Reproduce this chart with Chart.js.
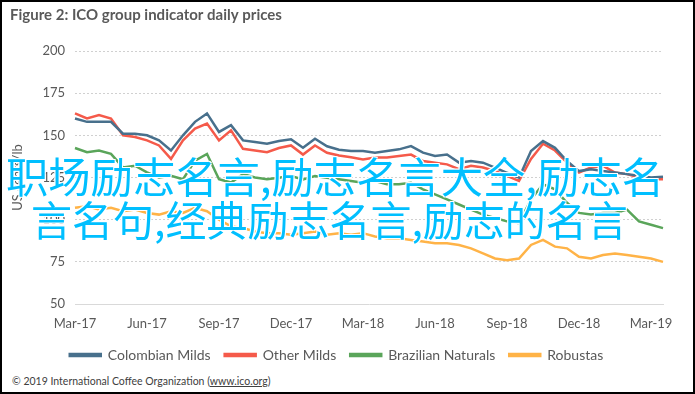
<!DOCTYPE html>
<html lang="en">
<head>
<meta charset="utf-8">
<title>ICO group indicator daily prices</title>
<script src="https://cdn.jsdelivr.net/npm/chart.js@4.4.0/dist/chart.umd.min.js"></script>
<style>
  body { margin: 0; background: #fff; }
  .kontainer { position: relative; width: 695px; height: 394px; overflow: hidden; }
  .ram { position: absolute; left: 0; top: 0; width: 695px; height: 394px; box-sizing: border-box; border: 2px solid #000; pointer-events: none; }
  .diagram { position: absolute; left: 0; top: 0; width: 695px; height: 375px; }
  .kalla { position: absolute; left: 12px; top: 375px; font: 10.5px Lato, sans-serif; color: #404040; }
  .kalla u { text-decoration: underline; }
  .overlay { position: absolute; white-space: nowrap;
             font-family: "Noto Sans CJK SC", sans-serif; line-height: 42px; color: #00bfff;
             text-shadow: 1px 1px 0 #fff, -1px -1px 0 #fff, 1px -1px 0 #fff, -1px 1px 0 #fff; }
  .rad1 { left: 6px; top: 154px; font-size: 42.3px; }
  .rad2 { left: 31px; top: 197px; font-size: 41px; }
</style>
</head>
<body>
<div class="kontainer">
  <div class="diagram"><canvas id="myChart" width="695" height="375"></canvas></div>
  <div class="overlay rad1">职场励志名言,励志名言大全,励志名</div>
  <div class="overlay rad2">言名句,经典励志名言,励志的名言</div>
  <div class="kalla">© 2019 International Coffee Organization (<u>www.ico.org</u>)</div>
  <div class="ram"></div>
</div>
<script>
// half-monthly readings, Mar-17 .. mid Mar-19
const categories = [
  '01-Mar-17','16-Mar-17','01-Apr-17','16-Apr-17','01-May-17','16-May-17',
  '01-Jun-17','16-Jun-17','01-Jul-17','16-Jul-17','01-Aug-17','16-Aug-17',
  '01-Sep-17','16-Sep-17','01-Oct-17','16-Oct-17','01-Nov-17','16-Nov-17',
  '01-Dec-17','16-Dec-17','01-Jan-18','16-Jan-18','01-Feb-18','16-Feb-18',
  '01-Mar-18','16-Mar-18','01-Apr-18','16-Apr-18','01-May-18','16-May-18',
  '01-Jun-18','16-Jun-18','01-Jul-18','16-Jul-18','01-Aug-18','16-Aug-18',
  '01-Sep-18','16-Sep-18','01-Oct-18','16-Oct-18','01-Nov-18','16-Nov-18',
  '01-Dec-18','16-Dec-18','01-Jan-19','16-Jan-19','01-Feb-19','16-Feb-19',
  '01-Mar-19','16-Mar-19'
];
const tickLabels = ['Mar-17','Jun-17','Sep-17','Dec-17','Mar-18','Jun-18','Sep-18','Dec-18','Mar-19'];

const colombianMilds = [160,158,158,158,151,151,150,147,141,150,158,163,152,156,147,146,145,146.6,147.7,142.6,
  148,143.5,141.5,140.7,140.7,139.7,140.7,141.7,143.6,139.7,137.8,138.6,133.8,134.8,133.8,130.9,127.8,124.9,140.7,146.6,
  142.6,134.8,128.8,129.9,128.8,127.9,127,126,125,125.5];
const otherMilds = [163,160,162,160,150,149,147,144,136,147,154,157,147,153,142,141,140,142.5,144,138.6,
  144,139.7,138,137,135.7,136.8,136.8,137.8,138.6,134.8,133.8,132.8,129.9,131.9,130.9,128.9,126,123,136,145,
  141,133.8,128,130.9,131.9,127.9,127,125,124,124];
const brazilianNaturals = [142.5,140,141,139,131,132,128,125,126,124,135,139,124,122,127,125,124,124.9,125.9,123.9,
  125.9,124.9,123.9,122.9,121.9,122.9,121,121,121.9,118,115,112,109,106,103,101,99,98,112,121,
  118,110,104,103,104,104,106,99,97,95];
const robustas = [107,108,106,107,105,106,104,103,105,104,107,105,100,96,95,93,92,92,91,92,
  93,91,92,91,92,90,89,89,88,87,86,86,85,83,80,77,76,77,85,88,
  84,83,78,77,79,80,79,78,77,75];

const grå = '#595959';

function serie(label, data, color) {
  return { label: label, data: data, borderColor: color, backgroundColor: color,
           borderWidth: 2.5, pointRadius: 0, tension: 0 };
}

const ctx = document.getElementById('myChart').getContext('2d');
const myChart = new Chart(ctx, {
  type: 'line',
  data: {
    labels: categories,
    datasets: [
      serie('Colombian Milds', colombianMilds, '#48708c'),
      serie('Other Milds', otherMilds, '#f55a4a'),
      serie('Brazilian Naturals', brazilianNaturals, '#5aa55a'),
      serie('Robustas', robustas, '#ffb347')
    ]
  },
  options: {
    responsive: false,
    animation: false,
    layout: { padding: { left: 10, right: 32, top: 4, bottom: 3 } },
    plugins: {
      title: {
        display: true, text: 'Figure 2: ICO group indicator daily prices', align: 'start',
        color: grå, font: { family: 'Lato', size: 15 }, padding: { top: 2, bottom: 27 }
      },
      legend: {
        position: 'bottom',
        labels: { boxWidth: 31, boxHeight: 2, padding: 14, color: grå, font: { family: 'Lato', size: 14 } }
      },
      tooltip: { enabled: false }
    },
    scales: {
      x: {
        afterFit: function (s) { s.height = 30; },
        grid: { display: false, drawTicks: false },
        border: { display: true, color: '#d9d9d9', width: 1 },
        ticks: {
          autoSkip: false, maxRotation: 0, padding: 12, color: grå, font: { family: 'Lato', size: 13 },
          callback: function (v, i) { return i % 6 === 0 ? tickLabels[i / 6] : ''; }
        }
      },
      y: {
        min: 50, max: 200,
        afterFit: function (s) { s.width = 65; },
        grid: { color: '#d0d0d0', lineWidth: 1, drawTicks: false },
        border: { display: false, dash: [2, 2] },
        ticks: { stepSize: 25, padding: 10, color: grå, font: { family: 'Lato', size: 13 } },
        title: { display: true, text: 'US cents/lb', color: grå, font: { family: 'Lato', size: 13 }, padding: 0 }
      }
    }
  }
});
</script>
</body>
</html>
